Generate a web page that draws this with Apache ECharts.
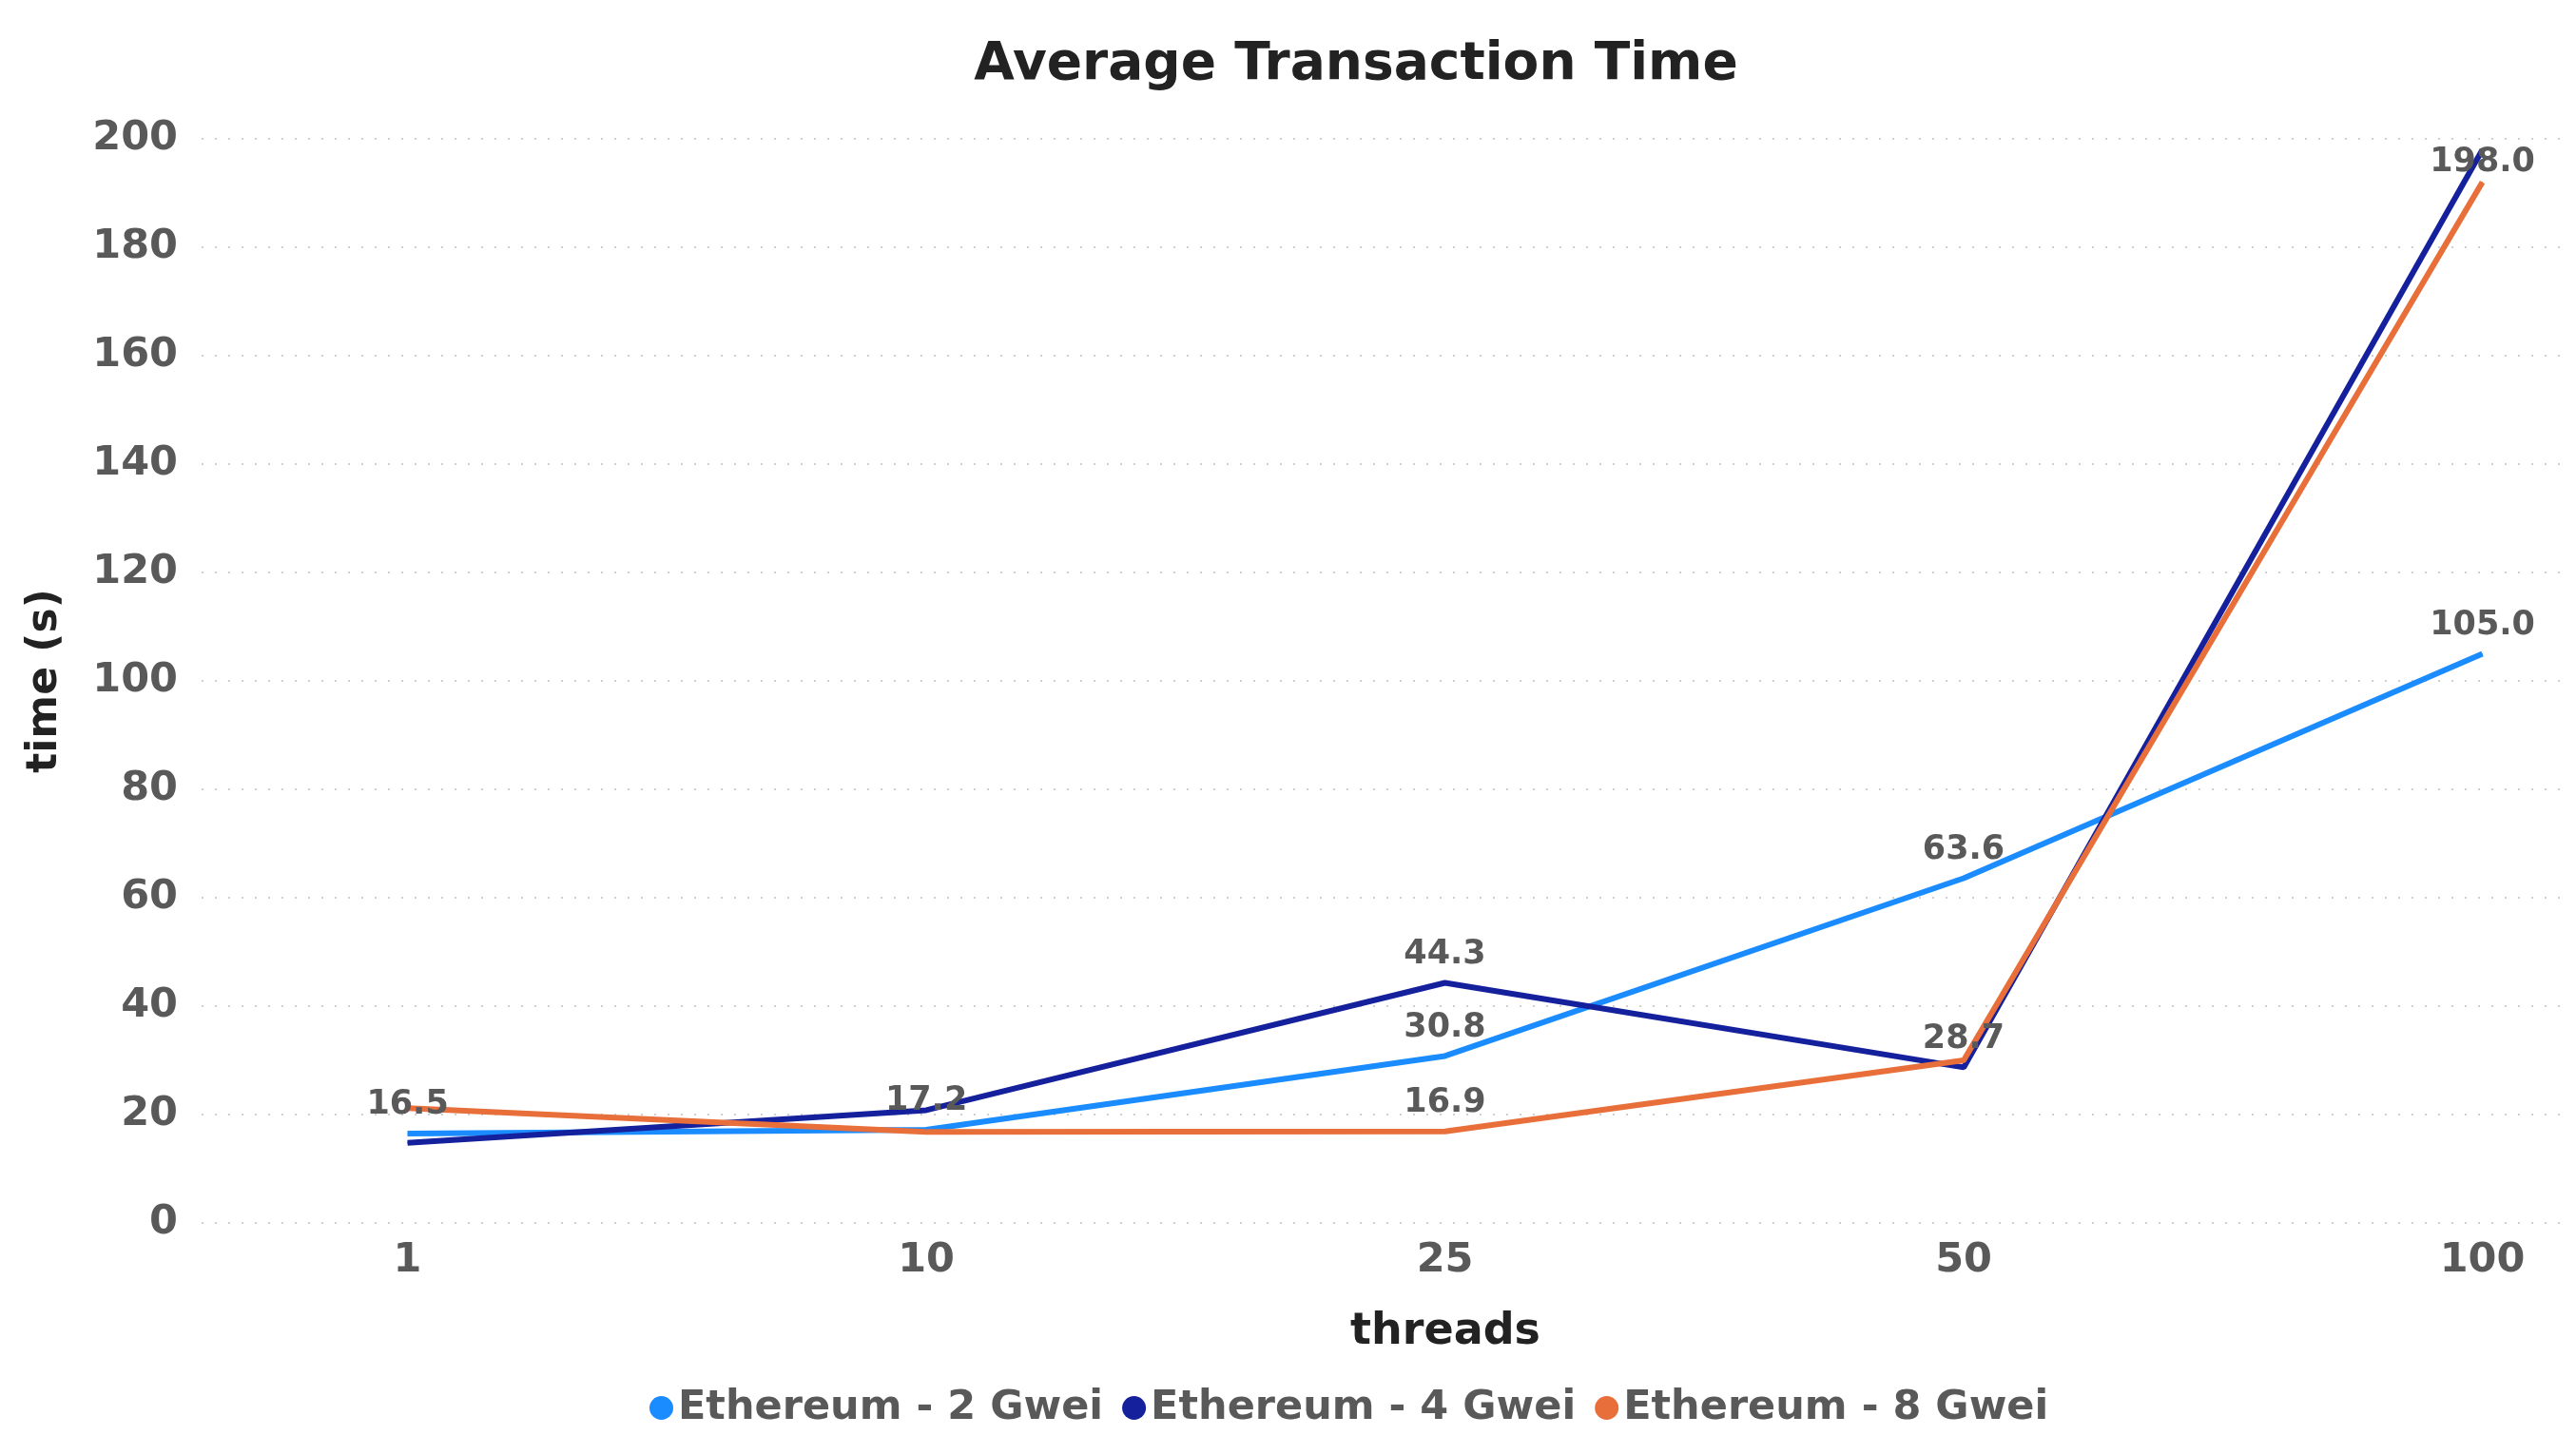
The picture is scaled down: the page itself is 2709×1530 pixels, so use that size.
<!DOCTYPE html>
<html>
<head>
<meta charset="utf-8">
<script src="https://cdn.jsdelivr.net/npm/echarts@6/dist/echarts.min.js"></script>
<style>
html,body{margin:0;padding:0;background:#fff;}
#main{width:2709px;height:1530px;}
</style>
</head>
<body>
<div id="main"></div>
<script>
const categories = ['1', '10', '25', '50', '100'];
const seriesNames = ['Ethereum - 2 Gwei', 'Ethereum - 4 Gwei', 'Ethereum - 8 Gwei'];
const gwei2 = [16.5, 17.2, 30.8, 63.6, 105.0];
const gwei4 = [14.8, 20.8, 44.3, 28.7, 198.0];
const gwei8 = [21.2, 16.8, 16.9, 30.0, 192.0];
const yTicks = [0, 20, 40, 60, 80, 100, 120, 140, 160, 180, 200];

const colors = ['#1a8cff', '#14209c', '#e86f3a'];
const FONT = 'DejaVu Sans';
const labelGray = '#595959';
const GRID_TOP = 146;

function toPoints(vals) {
  return vals.map((v, i) => [i, v]);
}

const chart = echarts.init(document.getElementById('main'), null, {renderer: 'canvas'});
const allSeries = [gwei2, gwei4, gwei8].map((vals, k) => ({
  name: seriesNames[k],
  type: 'line',
  data: toPoints(vals),
  color: colors[k],
  showSymbol: true,
  symbol: 'circle',
  symbolSize: 1,
  lineStyle: {width: 6, color: colors[k]},
  itemStyle: {color: colors[k]},
  label: {
    show: true,
    position: 'top',
    distance: 12,
    color: labelGray,
    fontFamily: FONT,
    fontWeight: 'bold',
    fontSize: 35,
    formatter: p => p.value[1].toFixed(1)
  },
  labelLayout: function (params) {
    const over = GRID_TOP + 7 - params.labelRect.y;
    return {hideOverlap: true, dy: over > 0 ? over : 0};
  },
  emphasis: {disabled: true},
  z: 2
}));

chart.setOption({
  animation: false,
  backgroundColor: '#ffffff',
  title: {
    text: 'Average Transaction Time',
    left: 1421,
    textAlign: 'center',
    top: 36,
    textStyle: {fontFamily: FONT, fontWeight: 'bold', fontSize: 55, color: '#222222'}
  },
  legend: {
    left: 678,
    top: 1454,
    icon: 'circle',
    itemWidth: 25,
    itemHeight: 25,
    itemGap: 20,
    data: seriesNames,
    textStyle: {fontFamily: FONT, fontWeight: 'bold', fontSize: 43, color: labelGray}
  },
  grid: {left: 212, right: 9, top: GRID_TOP, bottom: 244, containLabel: false},
  xAxis: {
    type: 'value',
    min: -0.397,
    max: 4.164,
    name: 'threads',
    nameLocation: 'middle',
    nameGap: 92,
    nameTextStyle: {fontFamily: FONT, fontWeight: 'bold', fontSize: 46, color: '#222222', padding: [0, 0, 0, 128]},
    axisLine: {show: false},
    axisTick: {show: false},
    splitLine: {show: false},
    axisLabel: {
      customValues: categories.map((c, i) => i),
      formatter: v => categories[Math.round(v)],
      margin: 18,
      fontFamily: FONT,
      fontWeight: 'bold',
      fontSize: 43,
      color: labelGray
    }
  },
  yAxis: {
    type: 'value',
    min: yTicks[0],
    max: yTicks[yTicks.length - 1],
    interval: yTicks[1] - yTicks[0],
    name: 'time (s)',
    nameLocation: 'middle',
    nameRotate: 90,
    nameGap: 142,
    nameTextStyle: {fontFamily: FONT, fontWeight: 'bold', fontSize: 44, color: '#222222'},
    axisLine: {show: false},
    axisTick: {show: false},
    axisLabel: {
      margin: 25,
      fontFamily: FONT,
      fontWeight: 'bold',
      fontSize: 43,
      color: labelGray
    },
    splitLine: {show: true, lineStyle: {color: '#cfcfcf', width: 2, type: [2, 12]}}
  },
  series: allSeries
});
</script>
</body>
</html>
